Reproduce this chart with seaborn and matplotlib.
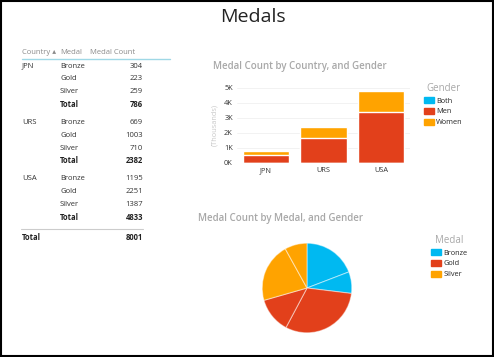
import numpy as np
import pandas as pd
import matplotlib
matplotlib.use("Agg")
import matplotlib.pyplot as plt
import seaborn as sns
from matplotlib.patches import Patch

# Dati della tabella
countries = ["JPN", "URS", "USA"]
medals = ["Bronze", "Gold", "Silver"]
medal_counts = {"JPN": [304, 223, 259], "URS": [669, 1003, 710], "USA": [1195, 2251, 1387]}
country_totals = [786, 2382, 4833]
grand_total = 8001

# Dati grafico a barre (per genere)
genders = ["Both", "Men", "Women"]
both_counts = [0, 0, 0]
men_counts = [560, 1670, 3380]
women_counts = [226, 712, 1453]

# Dati grafico a torta (medaglia x genere)
pie_medals = ["Bronze", "Bronze", "Gold", "Gold", "Silver", "Silver"]
pie_values = [1533, 622, 2467, 1022, 1711, 644]

colors = {"Bronze": "#00B9F1", "Gold": "#E2401B", "Silver": "#FFA300"}
gender_colors = {"Both": "#00B9F1", "Men": "#E2401B", "Women": "#FFA300"}

sns.set_theme(style="white")
plt.rcParams["font.family"] = ["Open Sans", "DejaVu Sans"]

W, H = 494, 357
fig = plt.figure(figsize=(W / 100, H / 100), dpi=100)
fig.patch.set_facecolor("white")


def px(x, y):
    return x / W, 1 - y / H


# bordo
fig.add_artist(plt.Rectangle((0.002, 0.003), 0.996, 0.994, transform=fig.transFigure,
                             fill=False, edgecolor="black", linewidth=1.5))

fig.text(*px(253, 17), "Medals", ha="center", va="center", fontsize=14, color="#222222")

# Tabella
fs = 5.5
hdr_color = "#8a8a8a"
fig.text(*px(22, 53), "Country \u25b4", fontsize=fs, color=hdr_color, va="center")
fig.text(*px(60, 53), "Medal", fontsize=fs, color=hdr_color, va="center")
fig.text(*px(90, 53), "Medal Count", fontsize=fs, color=hdr_color, va="center")
fig.add_artist(plt.Line2D([22 / W, 170 / W], [1 - 59 / H, 1 - 59 / H], transform=fig.transFigure,
                          color="#9fd8e6", linewidth=1))

row_y = 66
for i, c in enumerate(countries):
    y = row_y + i * 56.5
    fig.text(*px(22, y), c, fontsize=fs, color="#333333", va="center")
    for j, m in enumerate(medals):
        yy = y + j * 12.8
        fig.text(*px(60, yy), m, fontsize=fs, color="#333333", va="center")
        fig.text(*px(143, yy), str(medal_counts[c][j]), fontsize=fs, color="#333333",
                 va="center", ha="right")
    yy = y + 3 * 12.8
    fig.text(*px(60, yy), "Total", fontsize=fs, color="#222222", va="center", weight="bold")
    fig.text(*px(143, yy), str(country_totals[i]), fontsize=fs, color="#222222",
             va="center", ha="right", weight="bold")

fig.add_artist(plt.Line2D([21 / W, 143 / W], [1 - 229 / H, 1 - 229 / H], transform=fig.transFigure,
                          color="#cccccc", linewidth=0.8))
fig.text(*px(22, 238), "Total", fontsize=fs, color="#222222", va="center", weight="bold")
fig.text(*px(143, 238), str(grand_total), fontsize=fs, color="#222222", va="center",
         ha="right", weight="bold")

# Grafico a barre impilate
ax = fig.add_axes([237 / W, 1 - 163 / H, 173 / W, 75 / H])
df = pd.DataFrame({"Country": countries, "Both": both_counts, "Men": men_counts, "Women": women_counts})
df["Top"] = df["Both"] + df["Men"] + df["Women"]
df["Mid"] = df["Both"] + df["Men"]
sns.barplot(data=df, x="Country", y="Top", color=gender_colors["Women"], width=0.8, ax=ax, saturation=1)
sns.barplot(data=df, x="Country", y="Mid", color=gender_colors["Men"], width=0.8, ax=ax, saturation=1)
sns.barplot(data=df, x="Country", y="Both", color=gender_colors["Both"], width=0.8, ax=ax, saturation=1)
ax.set_xlim(-0.5, 2.5)
ax.set_ylim(0, 5000)
ax.set_yticks([0, 1000, 2000, 3000, 4000, 5000])
ax.set_yticklabels(["0K", "1K", "2K", "3K", "4K", "5K"])
ax.yaxis.grid(True, color="#f0f0f0", linewidth=0.6)
ax.set_axisbelow(True)
for s in ax.spines.values():
    s.set_visible(False)
ax.tick_params(axis="both", labelsize=5.3, colors="#333333", length=0, pad=3)
ax.set_xlabel("")
ax.set_ylabel("(Thousands)", fontsize=5.3, color="#c8c8c8", labelpad=4)
fig.text(*px(213, 66), "Medal Count by Country, and Gender", fontsize=7, color="#a8a8a8",
         va="center", weight="semibold")
leg = fig.legend(handles=[Patch(color=gender_colors[g]) for g in genders], labels=genders,
                 title="Gender", loc="upper left", bbox_to_anchor=(417 / W, 1 - 76 / H),
                 frameon=False, fontsize=5.3, title_fontsize=7, handlelength=1.4,
                 handleheight=0.9, handletextpad=0.3, labelspacing=0.45, alignment="center")
leg.get_title().set_color("#a8a8a8")

# Grafico a torta
ax2 = fig.add_axes([(307 - 56) / W, 1 - (288 + 56) / H, 112 / W, 112 / H])
ax2.pie(pie_values, colors=[colors[m] for m in pie_medals], startangle=90, counterclock=False,
        wedgeprops=dict(edgecolor=(1, 1, 1, 0.45), linewidth=0.8))
ax2.set_aspect("equal")
fig.text(*px(198, 218), "Medal Count by Medal, and Gender", fontsize=7, color="#a8a8a8",
         va="center", weight="semibold")
leg2 = fig.legend(handles=[Patch(color=colors[m]) for m in medals], labels=medals,
                  title="Medal", loc="upper left", bbox_to_anchor=(424 / W, 1 - 228 / H),
                  frameon=False, fontsize=5.3, title_fontsize=7, handlelength=1.4,
                  handleheight=0.9, handletextpad=0.3, labelspacing=0.45, alignment="center")
leg2.get_title().set_color("#a8a8a8")

fig.savefig("out.png", dpi=100)
